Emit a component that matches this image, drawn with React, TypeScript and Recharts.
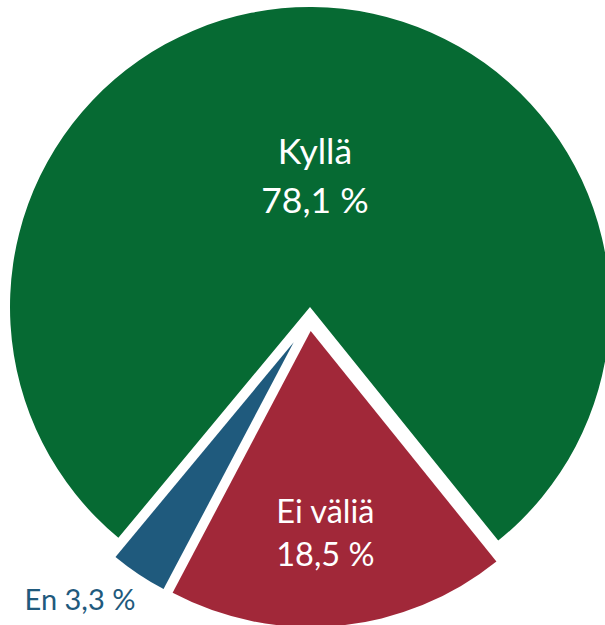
import React from "react";
import { PieChart, Pie, Cell } from "recharts";

// answers to the survey question
const categories = ["Kyllä", "Ei väliä", "En"];
const values = [78.1, 18.5, 3.3];
const valueLabels = ["78,1 %", "18,5 %", "3,3 %"];

const COLORS = ["#066a33", "#a12839", "#1f5a7d"];

const data = categories.map((name, i) => ({ name, value: values[i] }));

// each slice is drawn by its own Pie so it can be pulled out of the centre
const SLICES = [
  { cx: 310, cy: 307, r: 300 },
  { cx: 310.7, cy: 331, r: 296 },
  { cx: 293.7, cy: 342.3, r: 279 },
];

const LABELS = [
  { dist: 130, dx: 4, lines: [-13, 36], size: 35.5, color: "#ffffff" },
  { dist: 204, dx: -5, lines: [-11, 32], size: 32.5, color: "#ffffff" },
  { dist: 300, dx: -47, lines: [18], size: 29, color: "#1f5a7d" },
];

const RADIAN = Math.PI / 180;

const makeLabel = (shown: number) => (props: any) => {
  const { cx, cy, midAngle, index } = props;
  if (index !== shown) return null;
  const l = LABELS[index];
  const x = cx + l.dist * Math.cos(-midAngle * RADIAN) + l.dx;
  const y = cy + l.dist * Math.sin(-midAngle * RADIAN);
  const texts =
    l.lines.length === 2
      ? [categories[index], valueLabels[index]]
      : [`${categories[index]} ${valueLabels[index]}`];
  return (
    <text
      x={x}
      y={y}
      textAnchor="middle"
      fill={l.color}
      fontSize={l.size}
      fontFamily="Lato, 'Open Sans', sans-serif"
    >
      {texts.map((t, k) => (
        <tspan key={k} x={x} y={y + l.lines[k]}>
          {t}
        </tspan>
      ))}
    </text>
  );
};

const App: React.FC = () => {
  return (
    <div>
      <style>{`body { margin: 0; }`}</style>
      <PieChart
        width={605}
        height={625}
        margin={{ top: 0, right: 0, bottom: 0, left: 0 }}
      >
        {SLICES.map((s, shown) => (
          <Pie
            key={`pie-${shown}`}
            data={data}
            dataKey="value"
            nameKey="name"
            cx={s.cx}
            cy={s.cy}
            innerRadius={0}
            outerRadius={s.r}
            startAngle={230.3}
            endAngle={-129.7}
            label={makeLabel(shown)}
            labelLine={false}
            isAnimationActive={false}
          >
            {data.map((_, i) => (
              <Cell
                key={`cell-${i}`}
                fill={i === shown ? COLORS[i] : "none"}
                stroke="none"
              />
            ))}
          </Pie>
        ))}
      </PieChart>
    </div>
  );
};

export default App;
